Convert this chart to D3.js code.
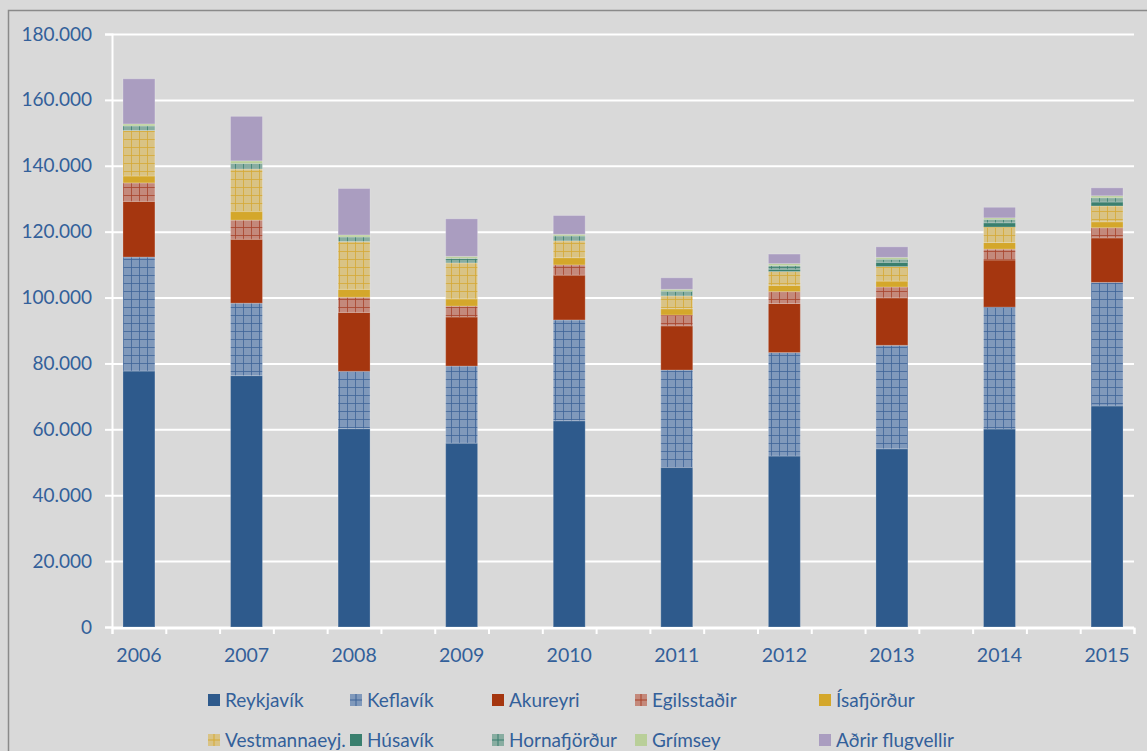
<!DOCTYPE html>
<html lang="is">
<head>
<meta charset="UTF-8">
<title>Farþegar um flugvelli</title>
<style>
    body, html {
        margin: 0;
        padding: 0;
        width: 100%;
        height: 100%;
        overflow: hidden;
        background: #d9d9d9;
    }
    svg text {
        font-family: Lato, "Open Sans", sans-serif;
        fill: #33609a;
    }
    .grid line { stroke: #ffffff; stroke-width: 2px; }
    .grid path { display: none; }
</style>
<script src="https://d3js.org/d3.v7.min.js"></script>
</head>
<body>
<div id="chart"></div>
<script>
// data (passengers per airport, by year)
const years = ["2006", "2007", "2008", "2009", "2010", "2011", "2012", "2013", "2014", "2015"];
const airports = ["Reykjavík", "Keflavík", "Akureyri", "Egilsstaðir", "Ísafjörður",
    "Vestmannaeyj.", "Húsavík", "Hornafjörður", "Grímsey", "Aðrir flugvellir"];

const reykjavik = [77700, 76300, 60200, 55800, 62600, 48400, 51900, 54100, 60100, 67100];
const keflavik  = [34600, 22000, 17400, 23400, 30600, 29600, 31400, 31400, 37000, 37500];
const akureyri  = [16900, 19400, 17900, 14900, 13600, 13400, 14900, 14400, 14300, 13500];
const egilsstadir = [5600, 5800, 4600, 3300, 3100, 3300, 3600, 3300, 3300, 3100];
const isafjordur  = [2100, 2600, 2400, 2200, 2200, 1900, 1900, 1800, 2000, 1800];
const vestmannaeyjar = [13800, 12900, 14500, 10900, 5100, 3900, 4200, 4400, 4700, 4800];
const husavik     = [0, 0, 0, 0, 0, 0, 700, 1300, 1300, 1200];
const hornafjordur = [1400, 1700, 1400, 1400, 1500, 1400, 1100, 900, 1000, 1300];
const grimsey     = [600, 800, 600, 600, 500, 600, 600, 600, 500, 600];
const adrir       = [13700, 13500, 14100, 11400, 5700, 3500, 2900, 3200, 3200, 2400];

const seriesValues = [reykjavik, keflavik, akureyri, egilsstadir, isafjordur,
    vestmannaeyjar, husavik, hornafjordur, grimsey, adrir];

const yTicks = [0, 20000, 40000, 60000, 80000, 100000, 120000, 140000, 160000, 180000];

// styles: base colour, and grid line colour for hatched series
const styles = [
    { fill: "#2e5a8c" },
    { fill: "#8099bb", line: "#3e6498" },
    { fill: "#a5360f" },
    { fill: "#c4897b", line: "#a8432a" },
    { fill: "#d4a72b" },
    { fill: "#d9c385", line: "#d6a935" },
    { fill: "#3a7f6e" },
    { fill: "#88ada1", line: "#3b7f70" },
    { fill: "#b9cf99" },
    { fill: "#aa9dc0" }
];

const width = 1147, height = 751;
const plotLeft = 112, plotRight = 1134, plotTop = 34, plotBottom = 627;

const rows = years.map((yr, i) => {
    const r = { year: yr };
    airports.forEach((a, j) => r[a] = seriesValues[j][i]);
    return r;
});
const stacked = d3.stack().keys(airports)(rows);

const svg = d3.select("#chart").append("svg")
    .attr("width", width)
    .attr("height", height);

// outer frame
svg.append("rect")
    .attr("x", 8.5).attr("y", 10.5)
    .attr("width", width + 10).attr("height", height + 10)
    .attr("fill", "#d9d9d9")
    .attr("stroke", "#8a8a8a")
    .attr("stroke-width", 1.5);

const defs = svg.append("defs");
styles.forEach((s, j) => {
    if (!s.line) return;
    const p = defs.append("pattern")
        .attr("id", "pat" + j)
        .attr("patternUnits", "userSpaceOnUse")
        .attr("width", 8).attr("height", 8);
    p.append("rect").attr("width", 8).attr("height", 8).attr("fill", s.fill);
    p.append("rect").attr("x", 3).attr("y", 0).attr("width", 1).attr("height", 8).attr("fill", s.line).attr("opacity", 0.8);
    p.append("rect").attr("x", 0).attr("y", 3).attr("width", 8).attr("height", 1).attr("fill", s.line).attr("opacity", 0.8);
});
const fillOf = j => styles[j].line ? `url(#pat${j})` : styles[j].fill;

const x = d3.scaleBand()
    .domain(years)
    .range([plotLeft, plotRight])
    .paddingInner(0.703)
    .paddingOuter(0.102);

const y = d3.scaleLinear()
    .domain([0, 180000])
    .range([plotBottom, plotTop]);

const fmt = d3.formatLocale({ decimal: ",", thousands: ".", grouping: [3], currency: ["", ""] }).format(",");

// gridlines
svg.append("g")
    .attr("class", "grid")
    .attr("transform", `translate(${plotLeft},0)`)
    .call(d3.axisLeft(y).tickValues(yTicks).tickSize(-(plotRight - plotLeft)).tickFormat(""));

// y axis
const yAxis = svg.append("g")
    .attr("transform", `translate(${plotLeft},0)`)
    .call(d3.axisLeft(y).tickValues(yTicks).tickSize(7).tickPadding(13).tickFormat(fmt));
yAxis.select(".domain").attr("stroke", "#fff").attr("stroke-width", 2);
yAxis.selectAll(".tick line").attr("stroke", "#fff").attr("stroke-width", 2);
yAxis.selectAll("text").attr("font-size", 19).style("fill", "#33609a");

// bars
svg.append("g")
    .selectAll("g")
    .data(stacked)
    .join("g")
    .attr("fill", (d, j) => fillOf(j))
    .selectAll("rect")
    .data(d => d)
    .join("rect")
    .attr("x", d => x(d.data.year))
    .attr("width", x.bandwidth())
    .attr("y", d => y(d[1]))
    .attr("height", d => y(d[0]) - y(d[1]))
    .attr("stroke", "rgba(255,255,255,0.22)")
    .attr("stroke-width", 1);

// x axis: tick marks between and under categories
const slot = d3.scaleLinear().domain([0, 19]).range([plotLeft, plotRight]);
const xTicks = svg.append("g")
    .attr("transform", `translate(0,${plotBottom + 1})`)
    .call(d3.axisBottom(slot).tickValues(d3.range(20)).tickSize(6).tickFormat(""));
xTicks.select(".domain").attr("stroke", "#fff").attr("stroke-width", 2);
xTicks.selectAll(".tick line").attr("stroke", "#fff").attr("stroke-width", 2);

const xAxis = svg.append("g")
    .attr("transform", `translate(0,${plotBottom + 1})`)
    .call(d3.axisBottom(x).tickSize(0).tickPadding(20));
xAxis.select(".domain").remove();
xAxis.selectAll("text").attr("font-size", 19.5).style("fill", "#33609a");

// legend
const legCols = [208, 350, 492, 635, 819];
const legRows = [700, 740];
const leg = svg.append("g")
    .selectAll("g")
    .data(airports)
    .join("g")
    .attr("transform", (d, j) => `translate(${legCols[j % 5]},${legRows[Math.floor(j / 5)]})`);
leg.append("rect")
    .attr("x", 0).attr("y", -6)
    .attr("width", 12).attr("height", 12)
    .attr("fill", (d, j) => styles[j].fill);
leg.filter((d, j) => styles[airports.indexOf(d)].line)
    .each(function (d) {
        const s = styles[airports.indexOf(d)];
        const g = d3.select(this);
        g.append("rect").attr("x", 5.5).attr("y", -6).attr("width", 1).attr("height", 12).attr("fill", s.line);
        g.append("rect").attr("x", 0).attr("y", -0.5).attr("width", 12).attr("height", 1).attr("fill", s.line);
    });
leg.append("text")
    .attr("x", 17)
    .attr("dy", "0.35em")
    .attr("font-size", 19)
    .text(d => d);
</script>
</body>
</html>
